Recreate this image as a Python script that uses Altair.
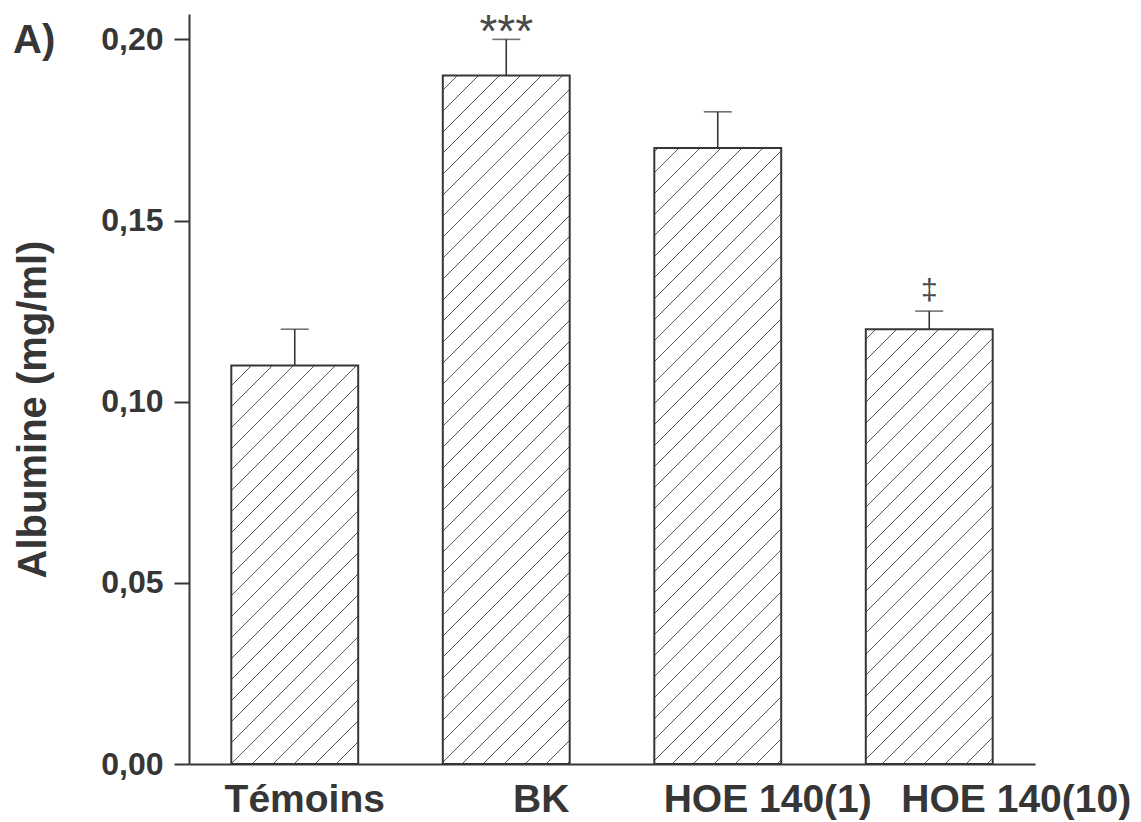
import altair as alt
import pandas as pd

# ---------------- data ----------------
categories = ["Témoins", "BK", "HOE 140(1)", "HOE 140(10)"]
means = [0.110, 0.190, 0.170, 0.120]
errors = [0.010, 0.010, 0.010, 0.005]
annotations = ["", "***", "", "‡"]
y_ticks = [0.00, 0.05, 0.10, 0.15, 0.20]
panel_label = ["A)"]

# ---------------- style ----------------
W, H = 846, 750
Y_MAX = 0.207
BAR_HALF = 0.3           # half bar width in band units
HATCH_STEP = 21          # horizontal spacing of hatch lines (px)
LABEL_SHIFT_PX = [10, 35, 50, 87]   # horizontal shift of category labels
FONT = "Liberation Sans"
INK = "#363636"

n = len(categories)
centers = [i + 0.5 for i in range(n)]
px_x = W / n
px_y = H / Y_MAX

df = pd.DataFrame({
    "cat": categories,
    "xc": centers,
    "xl": [c - BAR_HALF for c in centers],
    "xr": [c + BAR_HALF for c in centers],
    "lx": [c + s / px_x for c, s in zip(centers, LABEL_SHIFT_PX)],
    "mean": means,
    "top": [m + e for m, e in zip(means, errors)],
    "note": annotations,
})

# hatch lines (45 degrees in pixel space), clipped to each bar
rows = []
for xl, m in zip(df["xl"], df["mean"]):
    w = 2 * BAR_HALF * px_x
    h = m * px_y
    x0 = xl * px_x
    k_start = int((x0 - h) // HATCH_STEP) - 1
    k_end = int((x0 + w) // HATCH_STEP) + 1
    for k in range(k_start, k_end + 1):
        c = k * HATCH_STEP - x0  # local: y = x - c
        a = max(0.0, c)
        b = min(w, h + c)
        if b - a > 0.5:
            rows.append({
                "hx1": (x0 + a) / px_x, "hy1": (a - c) / px_y,
                "hx2": (x0 + b) / px_x, "hy2": (b - c) / px_y,
            })
hatch = pd.DataFrame(rows)

xscale = alt.Scale(domain=[0, n], nice=False, zero=False)
yscale = alt.Scale(domain=[0, Y_MAX], nice=False, zero=False)

x_axis = alt.Axis(
    values=centers, labels=False, ticks=False, grid=False, title=None,
    domainColor=INK, domainWidth=2,
)
y_axis = alt.Axis(
    values=y_ticks,
    labelExpr="replace(format(datum.value, '.2f'), '.', ',')",
    tickSize=15, tickWidth=2, tickColor=INK, grid=False,
    domainColor=INK, domainWidth=2,
    labelFont=FONT, labelFontSize=32, labelFontWeight="bold", labelColor=INK,
    labelPadding=11,
    title="Albumine (mg/ml)", titleFont=FONT, titleFontSize=40,
    titleFontWeight="bold", titleColor=INK, titleAngle=270,
    titleX=-156, titleY=395, titleAlign="center", titleBaseline="middle",
)

base = alt.Chart(df)

bars_fill = base.mark_rect(fill="white").encode(
    x=alt.X("xl:Q", scale=xscale, axis=x_axis),
    x2="xr:Q",
    y=alt.Y("mean:Q", scale=yscale, axis=y_axis),
    y2=alt.datum(0),
)

hatch_lines = alt.Chart(hatch).mark_rule(color="#555555", strokeWidth=1).encode(
    x=alt.X("hx1:Q", scale=xscale),
    y=alt.Y("hy1:Q", scale=yscale),
    x2="hx2:Q",
    y2="hy2:Q",
)

bars_outline = base.mark_rect(fillOpacity=0, stroke=INK, strokeWidth=2).encode(
    x=alt.X("xl:Q", scale=xscale),
    x2="xr:Q",
    y=alt.Y("mean:Q", scale=yscale),
    y2=alt.datum(0),
)

err = base.mark_rule(color=INK, strokeWidth=1.6).encode(
    x=alt.X("xc:Q", scale=xscale),
    y=alt.Y("mean:Q", scale=yscale),
    y2="top:Q",
)

caps = base.mark_tick(color=INK, orient="horizontal", size=28, thickness=1.6).encode(
    x=alt.X("xc:Q", scale=xscale),
    y=alt.Y("top:Q", scale=yscale),
)

stars = base.transform_filter("datum.note == '***'").mark_text(
    font=FONT, fontSize=46, color="#4a4a4a", baseline="alphabetic", dy=8
).encode(
    x=alt.X("xc:Q", scale=xscale),
    y=alt.Y("top:Q", scale=yscale),
    text="note:N",
)

dagger = base.transform_filter("datum.note == '‡'").mark_text(
    font=FONT, fontSize=30, color="#4a4a4a", baseline="alphabetic", dy=-11
).encode(
    x=alt.X("xc:Q", scale=xscale),
    y=alt.Y("top:Q", scale=yscale),
    text="note:N",
)

cat_labels = base.mark_text(
    font=FONT, fontSize=39, fontWeight="bold", color=INK,
    align="center", baseline="alphabetic",
).encode(
    x=alt.X("lx:Q", scale=xscale),
    y=alt.value(H + 48),
    text="cat:N",
)

panel = alt.Chart(pd.DataFrame({"lab": panel_label})).mark_text(
    font=FONT, fontSize=40, fontWeight="bold", color=INK,
    align="left", baseline="alphabetic",
).encode(
    x=alt.value(-176), y=alt.value(39), text="lab:N",
)

chart = alt.layer(
    bars_fill, hatch_lines, bars_outline, err, caps, stars, dagger,
    cat_labels, panel
).properties(
    width=W, height=H,
    autosize=alt.AutoSizeParams(type="none"),
    padding={"left": 189, "top": 14, "right": 106, "bottom": 58},
    background="white",
).configure_view(stroke=None)

chart.save("out.html", embed_options={"renderer": "svg", "actions": False})
